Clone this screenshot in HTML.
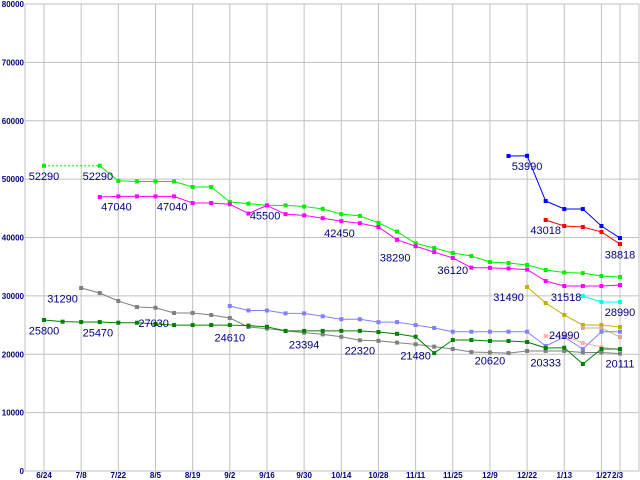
<!DOCTYPE html>
<html><head><meta charset="utf-8"><style>
html,body{margin:0;padding:0;background:#fff}
svg{display:block}
</style></head><body>
<svg id="chart" width="640" height="480" xmlns="http://www.w3.org/2000/svg" font-family="Liberation Sans, sans-serif"></svg>
<script>
const xLabels=["6/24","7/8","7/22","8/5","8/19","9/2","9/16","9/30","10/14","10/28","11/11","11/25","12/9","12/22","1/13","1/27","2/3"];
const xLabelSlots=[0,2,4,6,8,10,12,14,16,18,20,22,24,26,28,30,31];
const yTicks=[0,10000,20000,30000,40000,50000,60000,70000,80000];
const N=null;
const lime=[52290,N,N,52290,49700,49600,49600,49600,48650,48650,46100,45800,45500,45500,45300,44900,44000,43700,42500,41000,39000,38200,37340,36830,35800,35630,35290,34430,34000,33900,33400,33230];
const magenta=[N,N,N,46930,47040,47040,47040,47040,45900,45900,45700,44100,45500,44000,43800,43300,42800,42450,41800,39600,38500,37500,36490,34830,34800,34700,34500,32550,31690,31690,31690,31860];
const blue=[N,N,N,N,N,N,N,N,N,N,N,N,N,N,N,N,N,N,N,N,N,N,N,N,N,53960,53990,46250,44880,44880,41970,39910];
const red=[N,N,N,N,N,N,N,N,N,N,N,N,N,N,N,N,N,N,N,N,N,N,N,N,N,N,N,43000,41970,41800,40950,38880];
const olive=[N,N,N,N,N,N,N,N,N,N,N,N,N,N,N,N,N,N,N,N,N,N,N,N,N,N,31520,28780,26720,25010,25000,24670];
const cyan=[N,N,N,N,N,N,N,N,N,N,N,N,N,N,N,N,N,N,N,N,N,N,N,N,N,N,N,N,N,29980,28950,28950];
const tan=[N,N,N,N,N,N,N,N,N,N,N,N,N,N,N,N,N,N,N,N,N,N,N,N,N,N,N,N,N,24500,24500,22950];
const pink=[N,N,N,N,N,N,N,N,N,N,N,N,N,N,N,N,N,N,N,N,N,N,N,N,N,N,N,23130,23300,21930,21240,20730];
const lightblue=[N,N,N,N,N,N,N,N,N,N,28270,27500,27500,27000,27000,26500,26000,26000,25500,25500,25000,24500,23860,23860,23860,23860,23860,21410,22950,20900,23860,23860];
const gray=[N,N,31350,30490,29120,28090,27970,27070,27070,26720,26210,24670,24400,24000,23700,23400,23000,22400,22300,22000,21700,21300,20900,20380,20300,20200,20560,20560,20560,20300,20300,20111];
const dkgreen=[25870,25580,25520,25520,25400,25400,25180,25000,25000,25000,25000,24900,24700,24000,24000,24000,24000,24000,23800,23500,23000,20200,22440,22440,22270,22270,22100,21070,21120,18330,20900,20900];
const notes=["52290","52290","47040","47040","45500","42450","38290","36120","31290","25800","25470","27030","24610","23394","22320","21480","20620","20333","20111","24990","31490","31518","28990","43018","38818","53990"];
const noteSlots=[0,2.9,3.9,6.9,11.9,15.9,18.9,22,1,0,2.9,5.9,10,14,17,20,24,27,31,28,25,28.1,31,27,31,26];
const noteVals=[52290,52290,47040,47040,45500,42450,38290,36120,31290,25800,25470,27030,24610,23394,22320,21480,20620,20333,20111,24990,31490,31518,28990,43018,38818,53990];

const NS="http://www.w3.org/2000/svg";
const svg=document.getElementById('chart');
const L=25,T=4,B=471,R=639;
const x=i=>44+i*576/31;
const y=v=>B-v*(B-T)/80000;
function mk(tag,attrs,parent){const e=document.createElementNS(NS,tag);for(const k in attrs)e.setAttribute(k,attrs[k]);(parent||svg).appendChild(e);return e;}
const grid=mk('g',{});


yTicks.forEach(t=>{
  const l=mk('line',{x1:L,x2:R,y1:y(t),y2:y(t),stroke:'#c0c0c0','stroke-width':1},grid);
  
  
  const tx=mk('text',{x:L-1,y:y(t)+3,'text-anchor':'end','font-size':8,'font-weight':'bold',fill:'#000080'});
  tx.textContent=t;
  
  
});
xLabelSlots.forEach((s,i)=>{
  const l=mk('line',{x1:x(s),x2:x(s),y1:T,y2:B,stroke:'#c0c0c0','stroke-width':1},grid);
  
  
  const tx=mk('text',{x:x(s),y:478,'text-anchor':i==15?'end':(i==16?'start':'middle'),'font-size':8,'font-weight':'bold',fill:'#000080'});
  if(i==15){tx.setAttribute('x',x(s)+10);}
  if(i==16){tx.setAttribute('x',x(s)-8);}
  tx.textContent=xLabels[i];
  
  
});
const ax=mk('path',{d:`M${L},${T}V${B}H${R}V${T}`,fill:'none',stroke:'#c0c0c0','stroke-width':1});


const series=[[lime,'#00ee00','lime'],[magenta,'#ff00ff','magenta'],[blue,'#0000ff','blue'],[red,'#ff0000','red'],[olive,'#c0b000','olive'],[cyan,'#00ffff','cyan'],[tan,'#d0b080','tan'],[pink,'#ffb0b0','pink'],[lightblue,'#8080ff','lightblue'],[gray,'#808080','gray'],[dkgreen,'#008000','darkgreen']];
series.forEach(([d,c,n])=>{
  const g=mk('g',{});
  
  
  let prev=-1;
  d.forEach((v,i)=>{
    if(v==null)return;
    if(prev>=0){
      const ln=mk('line',{x1:x(prev),y1:y(d[prev]),x2:x(i),y2:y(v),stroke:c,'stroke-width':1,'stroke-dasharray':(i-prev>1)?'2,2':'none'},g);
      
      
    }
    const p=mk('rect',{x:x(i)-2,y:y(v)-2,width:4,height:4,fill:c},g);
    
    
    prev=i;
  });
});
notes.forEach((t,i)=>{
  const tx=mk('text',{x:x(noteSlots[i]),y:y(noteVals[i])+14,'text-anchor':'middle','font-size':11,fill:'#000080'});
  tx.textContent=t;
  
  
});
</script>
</body></html>
